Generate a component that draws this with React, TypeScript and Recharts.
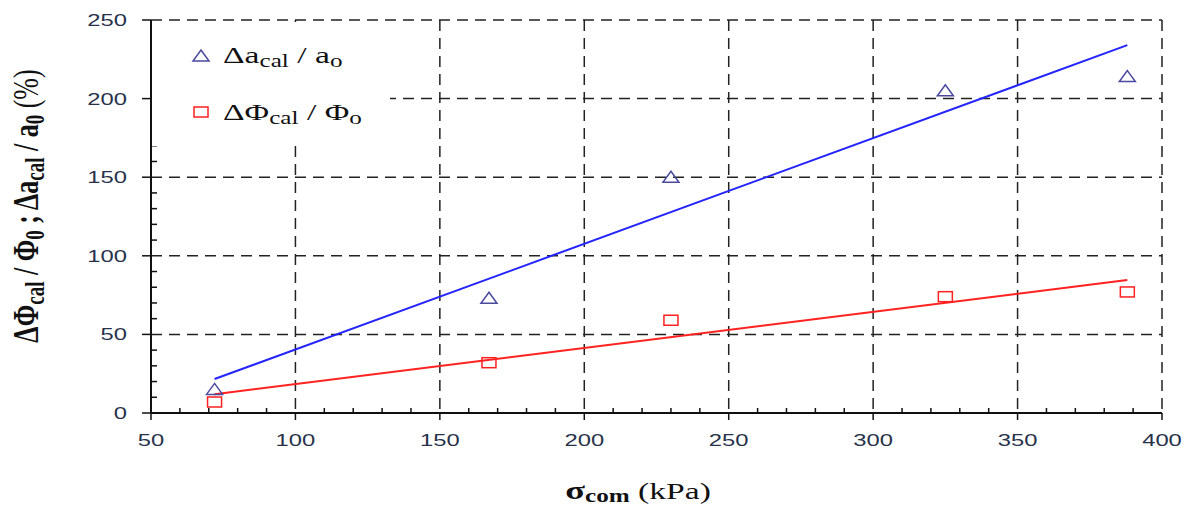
import React from "react";
import { CartesianGrid, ComposedChart, Legend, Line, Scatter, XAxis, YAxis } from "recharts";

// measured compressive stress (kPa)
const sigma = [72, 167, 230, 325, 388];
const daRatio = [15, 73, 150, 205, 214];
const dphiRatio = [7, 32, 59, 74, 77];

// linear fits
const fitX = [72, 388];
const daFit = [21.6, 234];
const dphiFit = [12, 84.6];

const xTicks = [50, 100, 150, 200, 250, 300, 350, 400];
const yTicks = [0, 50, 100, 150, 200, 250];
const xAllTicks = [
  50, 60, 70, 80, 90, 100, 110, 120, 130, 140, 150, 160, 170, 180, 190, 200, 210, 220, 230, 240,
  250, 260, 270, 280, 290, 300, 310, 320, 330, 340, 350, 360, 370, 380, 390, 400,
];
const yAllTicks = [
  0, 10, 20, 30, 40, 50, 60, 70, 80, 90, 100, 110, 120, 130, 140, 150, 160, 170, 180, 190, 200,
  210, 220, 230, 240, 250,
];

const daPoints = sigma.map((x, i) => ({ x, y: daRatio[i] }));
const dphiPoints = sigma.map((x, i) => ({ x, y: dphiRatio[i] }));
const daFitPoints = fitX.map((x, i) => ({ x, y: daFit[i] }));
const dphiFitPoints = fitX.map((x, i) => ({ x, y: dphiFit[i] }));

const SX = 1.4;
const TICK_COLOR = "#27324a";
const AXIS = "#111";
const SANS = "Liberation Sans";
const SERIF = "Liberation Serif";
const TRI = "#4a4a9e";
const RED = "#ff2020";
const BLUE = "#2424ff";

// tick lines are drawn here: long outward for labelled values, short inward otherwise
const XTick = (props: any) => {
  const { x, y, payload } = props;
  const major = xTicks.includes(payload.value);
  if (!major) {
    return <line x1={x} x2={x} y1={y} y2={y - 5} stroke={AXIS} strokeWidth={1.5} />;
  }
  return (
    <g>
      <line x1={x} x2={x} y1={y} y2={y + 7} stroke={AXIS} strokeWidth={1.5} />
      <g transform={`translate(${x},${y + 33}) scale(${SX},1)`}>
        <text textAnchor="middle" fontFamily={SANS} fontSize={17} fill={TICK_COLOR}>
          {payload.value}
        </text>
      </g>
    </g>
  );
};

const YTick = (props: any) => {
  const { x, y, payload } = props;
  const major = yTicks.includes(payload.value);
  if (!major) {
    return <line x1={x} x2={x + 6} y1={y} y2={y} stroke={AXIS} strokeWidth={1.5} />;
  }
  return (
    <g>
      <line x1={x} x2={x - 9} y1={y} y2={y} stroke={AXIS} strokeWidth={1.5} />
      <g transform={`translate(${x - 24},${y + 6}) scale(${SX},1)`}>
        <text textAnchor="end" fontFamily={SANS} fontSize={17} fill={TICK_COLOR}>
          {payload.value}
        </text>
      </g>
    </g>
  );
};

const Triangle = (props: any) => {
  const { cx, cy } = props;
  return (
    <path
      d={`M${cx},${cy - 6} L${cx + 8},${cy + 5} L${cx - 8},${cy + 5} Z`}
      fill="none"
      stroke={TRI}
      strokeWidth={1.5}
    />
  );
};

const Square = (props: any) => {
  const { cx, cy } = props;
  return <rect x={cx - 7} y={cy - 5} width={14} height={10} fill="none" stroke={RED} strokeWidth={1.5} />;
};

const XLabel = () => (
  <g transform={`translate(638,499) scale(${SX},1)`}>
    <text textAnchor="middle" fontFamily={SERIF} fontSize={24} fill="#111">
      <tspan fontWeight="bold" fontSize={26}>σ</tspan>
      <tspan fontWeight="bold" fontSize={18} dy={3}>com</tspan>
      <tspan dy={-3}> (kPa)</tspan>
    </text>
  </g>
);

const YLabel = () => (
  <g transform={`translate(38,206) scale(${SX},1) rotate(-90)`}>
    <text textAnchor="middle" fontFamily={SERIF} fontWeight="bold" fontSize={26} fill="#111">
      <tspan>ΔΦ</tspan>
      <tspan fontSize={19} dy={4}>cal</tspan>
      <tspan dy={-4}> / Φ</tspan>
      <tspan fontSize={19} dy={4}>0</tspan>
      <tspan dy={-4}> ; Δa</tspan>
      <tspan fontSize={19} dy={4}>cal</tspan>
      <tspan dy={-4}> / a</tspan>
      <tspan fontSize={19} dy={4}>0</tspan>
      <tspan dy={-4} fontWeight="normal"> (%)</tspan>
    </text>
  </g>
);

const LegendBox = () => (
  <svg width={238} height={124} style={{ display: "block" }}>
    <rect x={0} y={0} width={238} height={124} fill="#fff" />
    <Triangle cx={49} cy={34} />
    <g transform={`translate(71,41) scale(${SX},1)`}>
      <text fontFamily={SERIF} fontSize={24} fill="#111">
        <tspan>Δa</tspan>
        <tspan fontSize={18} dy={4}>cal</tspan>
        <tspan dy={-4}> / a</tspan>
        <tspan fontSize={18} dy={4}>o</tspan>
      </text>
    </g>
    <Square cx={49} cy={90} />
    <g transform={`translate(71,98) scale(${SX},1)`}>
      <text fontFamily={SERIF} fontSize={24} fill="#111">
        <tspan>ΔΦ</tspan>
        <tspan fontSize={18} dy={4}>cal</tspan>
        <tspan dy={-4}> / Φ</tspan>
        <tspan fontSize={18} dy={4}>o</tspan>
      </text>
    </g>
  </svg>
);

export default function App() {
  return (
    <div style={{ position: "absolute", left: 0, top: 0, width: 1192, height: 508, background: "#fff" }}>
      <ComposedChart width={1192} height={508} margin={{ top: 20, right: 30, bottom: 0, left: 0 }}>
        <CartesianGrid
          stroke="#222"
          strokeWidth={1.5}
          strokeDasharray="11 7"
          verticalValues={xTicks}
          horizontalValues={yTicks}
        />
        <XAxis
          dataKey="x"
          type="number"
          domain={[50, 400]}
          allowDataOverflow
          ticks={xAllTicks}
          interval={0}
          height={95}
          tickSize={0}
          tickMargin={0}
          tickLine={false}
          axisLine={{ stroke: AXIS, strokeWidth: 2 }}
          tick={<XTick />}
          label={<XLabel />}
        />
        <YAxis
          dataKey="y"
          type="number"
          domain={[0, 250]}
          allowDataOverflow
          ticks={yAllTicks}
          interval={0}
          width={151}
          tickSize={0}
          tickMargin={0}
          tickLine={false}
          axisLine={{ stroke: AXIS, strokeWidth: 2 }}
          tick={<YTick />}
          label={<YLabel />}
        />
        <Line
          data={daFitPoints}
          dataKey="y"
          type="linear"
          stroke={BLUE}
          strokeWidth={2}
          dot={false}
          isAnimationActive={false}
          legendType="none"
        />
        <Line
          data={dphiFitPoints}
          dataKey="y"
          type="linear"
          stroke={RED}
          strokeWidth={2}
          dot={false}
          isAnimationActive={false}
          legendType="none"
        />
        <Scatter data={daPoints} dataKey="y" shape={<Triangle />} isAnimationActive={false} />
        <Scatter data={dphiPoints} dataKey="y" shape={<Square />} isAnimationActive={false} />
        <Legend
          layout="vertical"
          align="center"
          verticalAlign="middle"
          content={<LegendBox />}
          wrapperStyle={{ position: "absolute", left: 152, top: 22, width: 238, height: 124 }}
        />
      </ComposedChart>
    </div>
  );
}
